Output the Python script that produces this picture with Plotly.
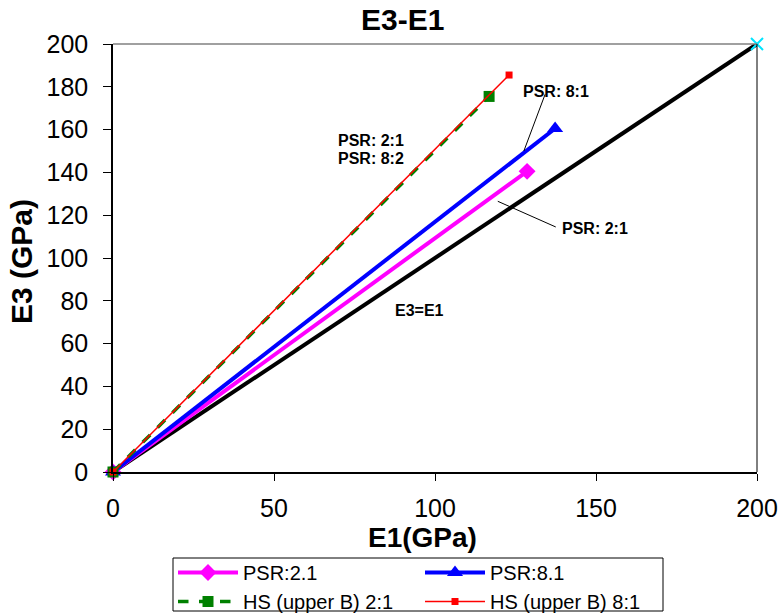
import plotly.graph_objects as go

psr21_x = [0, 128.6]
psr21_y = [0, 140.5]
psr81_x = [0, 137.3]
psr81_y = [0, 160.5]
hs21_x = [0, 116.8]
hs21_y = [0, 175.5]
hs81_x = [0, 123]
hs81_y = [0, 185.5]
eq_x = [0, 200]
eq_y = [0, 200]

FONT = "Liberation Sans, Arial, sans-serif"

fig = go.Figure()
fig.add_trace(go.Scatter(x=eq_x, y=eq_y, mode="lines", line=dict(color="black", width=4),
                         showlegend=False, hoverinfo="skip"))
fig.add_trace(go.Scatter(x=[eq_x[1]], y=[eq_y[1]], mode="markers",
                         marker=dict(symbol="x-thin", size=12, line=dict(color="#00e5ff", width=2)),
                         showlegend=False))
fig.add_trace(go.Scatter(x=psr21_x, y=psr21_y, mode="lines+markers", name="PSR:2.1",
                         line=dict(color="#ff00ff", width=4),
                         marker=dict(symbol="diamond", size=13, color="#ff00ff")))
fig.add_trace(go.Scatter(x=psr81_x, y=psr81_y, mode="lines+markers", name="PSR:8.1",
                         line=dict(color="#0000ff", width=4),
                         marker=dict(symbol="triangle-up", size=14, color="#0000ff")))
fig.add_trace(go.Scatter(x=hs21_x, y=hs21_y, mode="lines+markers", name="HS (upper B) 2:1",
                         line=dict(color="#008000", width=3.5, dash="dash"),
                         marker=dict(symbol="square", size=11, color="#008000")))
fig.add_trace(go.Scatter(x=hs81_x, y=hs81_y, mode="lines+markers", name="HS (upper B) 8:1",
                         line=dict(color="#ff0000", width=1.5),
                         marker=dict(symbol="square", size=7, color="#ff0000")))

ann_font = dict(family=FONT, size=16, color="black")
annotations = [
    dict(x=0.449, xref="paper", y=(472 - 20) / 428, yref="paper", text="<b>E3-E1</b>", showarrow=False,
         font=dict(family=FONT, size=30, color="black"), xanchor="center", yanchor="middle"),
    dict(x=0.48, xref="paper", y=-(537 - 472) / 428, yref="paper", text="<b>E1(GPa)</b>", showarrow=False,
         font=dict(family=FONT, size=28, color="black"), xanchor="center", yanchor="middle"),
    dict(x=-(113 - 21) / 644, xref="paper", y=(472 - 262) / 428, yref="paper", text="<b>E3 (GPa)</b>",
         showarrow=False, textangle=-90,
         font=dict(family=FONT, size=30, color="black"), xanchor="center", yanchor="middle"),
    dict(x=137.6, y=177.6, text="<b>PSR: 8:1</b>", showarrow=False, font=ann_font),
    dict(x=149.7, y=114, text="<b>PSR: 2:1</b>", showarrow=False, font=ann_font),
    dict(x=80, y=154.7, text="<b>PSR: 2:1</b>", showarrow=False, font=ann_font),
    dict(x=80, y=146.7, text="<b>PSR: 8:2</b>", showarrow=False, font=ann_font),
    dict(x=95.3, y=75.7, text="<b>E3=E1</b>", showarrow=False, font=ann_font),
]

shapes = [
    dict(type="line", xref="x", yref="y", x0=134.2, y0=176.5, x1=127.6, y1=150, line=dict(color="black", width=1)),
    dict(type="line", xref="x", yref="y", x0=137.5, y0=114.5, x1=119.5, y1=126.5, line=dict(color="black", width=1)),
    dict(type="line", xref="paper", yref="paper", x0=0, y0=1, x1=1, y1=1, line=dict(color="#808080", width=1.5)),
    dict(type="line", xref="paper", yref="paper", x0=1, y0=0, x1=1, y1=1, line=dict(color="black", width=1)),
    dict(type="rect", xref="paper", yref="paper",
         x0=(173 - 113) / 644, x1=(663 - 113) / 644, y0=-(558 - 472) / 428, y1=-(611 - 472) / 428,
         line=dict(color="black", width=1), fillcolor="rgba(0,0,0,0)", layer="above"),
]

fig.update_layout(
    width=779, height=615,
    margin=dict(l=113, r=22, t=44, b=143, autoexpand=False),
    paper_bgcolor="white", plot_bgcolor="white",
    font=dict(family=FONT, color="black"),
    annotations=annotations,
    shapes=shapes,
    showlegend=True,
    legend=dict(orientation="h", x=(173 - 113) / 644, y=-(553 - 472) / 428, xanchor="left", yanchor="top",
                font=dict(family=FONT, size=20, color="black"),
                borderwidth=0, bgcolor="rgba(0,0,0,0)",
                entrywidth=172, entrywidthmode="pixels", tracegroupgap=0, itemwidth=60),
    xaxis=dict(range=[0, 200], tickvals=[0, 50, 100, 150, 200], showgrid=False, zeroline=False,
               showline=True, linecolor="black", linewidth=1.5, ticks="outside", ticklen=7,
               tickcolor="black", tickfont=dict(family=FONT, size=25), ticklabelstandoff=6),
    yaxis=dict(range=[0, 200], tickvals=list(range(0, 201, 20)), showgrid=False, zeroline=False,
               showline=True, linecolor="black", linewidth=1.5, ticks="outside", ticklen=8,
               tickcolor="black", tickfont=dict(family=FONT, size=25), ticklabelstandoff=10),
)
for tr in fig.data:
    tr.cliponaxis = False

fig.write_html("out.html")
